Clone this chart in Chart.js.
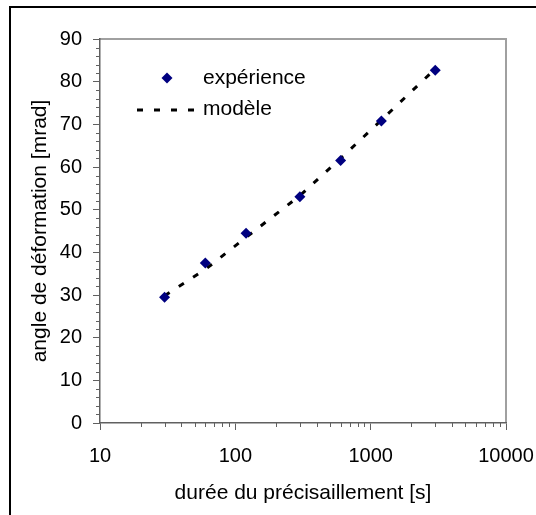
<!DOCTYPE html>
<html>
<head>
<meta charset="utf-8">
<script src="https://cdn.jsdelivr.net/npm/chart.js@4.4.1/dist/chart.umd.min.js"></script>
<style>
  html, body { margin: 0; padding: 0; background: #fff; }
  #wrap { position: relative; width: 536px; height: 515px; }
</style>
</head>
<body>
<div id="wrap"><canvas id="chart" width="536" height="515"></canvas></div>
<script>
// durations of pre-shear [s] and deformation angle [mrad]
const durations = [30, 60, 120, 300, 600, 1200, 3000];
const measured = [29.5, 37.5, 44.5, 53.0, 61.5, 70.8, 82.7];
const modelled = [29.8, 36.0, 43.5, 53.3, 62.0, 71.0, 83.0];

const seriesLabels = ["expérience", "modèle"];
const xTitle = "durée du précisaillement [s]";
const yTitle = "angle de déformation [mrad]";

const xMajorTicks = [10, 100, 1000, 10000];
const xMinorTicks = [20, 30, 40, 50, 60, 70, 80, 90,
  200, 300, 400, 500, 600, 700, 800, 900,
  2000, 3000, 4000, 5000, 6000, 7000, 8000, 9000];
const yMinorTicks = [2, 4, 6, 8, 12, 14, 16, 18, 22, 24, 26, 28, 32, 34, 36, 38,
  42, 44, 46, 48, 52, 54, 56, 58, 62, 64, 66, 68, 72, 74, 76, 78, 82, 84, 86, 88];

const FONT = "'Liberation Sans', Arial, sans-serif";
const NAVY = "#000080";
const AXIS = "#606060";

// frame, plot border, minor ticks and the legend inside the plot
const decorations = {
  id: "decorations",
  beforeDraw(chart) {
    const { ctx, chartArea: a } = chart;
    ctx.save();
    ctx.strokeStyle = "#000";
    ctx.lineWidth = 2;
    ctx.beginPath();
    ctx.moveTo(10, chart.height);
    ctx.lineTo(10, 7);
    ctx.lineTo(chart.width, 7);
    ctx.stroke();

    ctx.strokeStyle = "#a0a0a0";
    ctx.lineWidth = 2;
    ctx.beginPath();
    ctx.moveTo(a.left, a.top);
    ctx.lineTo(a.right, a.top);
    ctx.lineTo(a.right, a.bottom);
    ctx.stroke();
    ctx.restore();
  },
  afterDraw(chart) {
    const { ctx, chartArea: a } = chart;
    const xs = chart.scales.x;
    const ys = chart.scales.y;
    ctx.save();
    ctx.strokeStyle = AXIS;
    ctx.lineWidth = 1;
    ctx.beginPath();
    xMinorTicks.forEach((v) => {
      const px = Math.round(xs.getPixelForValue(v)) + 0.5;
      ctx.moveTo(px, a.bottom);
      ctx.lineTo(px, a.bottom + 4);
    });
    yMinorTicks.forEach((v) => {
      const py = Math.round(ys.getPixelForValue(v)) + 0.5;
      ctx.moveTo(a.left - 4, py);
      ctx.lineTo(a.left, py);
    });
    ctx.stroke();

    // legend
    const ds = chart.data.datasets;
    ctx.fillStyle = NAVY;
    ctx.beginPath();
    const cx = 167, cy = 78, r = 5.5;
    ctx.moveTo(cx, cy - r);
    ctx.lineTo(cx + r, cy);
    ctx.lineTo(cx, cy + r);
    ctx.lineTo(cx - r, cy);
    ctx.closePath();
    ctx.fill();

    ctx.strokeStyle = "#000";
    ctx.lineWidth = 3;
    ctx.setLineDash([6, 11]);
    ctx.beginPath();
    ctx.moveTo(137, 110);
    ctx.lineTo(196, 110);
    ctx.stroke();
    ctx.setLineDash([]);

    ctx.fillStyle = "#000";
    ctx.font = "21px " + FONT;
    ctx.textBaseline = "middle";
    ctx.textAlign = "left";
    ctx.fillText(ds[0].label, 203, 78);
    ctx.fillText(ds[1].label, 203, 109);
    ctx.restore();
  },
};

const ctx = document.getElementById("chart");
const chart = new Chart(ctx, {
  type: "scatter",
  data: {
    datasets: [
      {
        label: seriesLabels[0],
        data: durations.map((x, i) => ({ x: x, y: measured[i] })),
        pointStyle: "rectRot",
        pointRadius: 5.5,
        pointBorderWidth: 0,
        backgroundColor: NAVY,
        borderColor: NAVY,
        showLine: false,
        order: 0,
      },
      {
        label: seriesLabels[1],
        data: durations.map((x, i) => ({ x: x, y: modelled[i] })),
        showLine: true,
        pointRadius: 0,
        borderColor: "#000",
        borderWidth: 3,
        borderDash: [6, 11],
        order: 1,
      },
    ],
  },
  options: {
    responsive: false,
    animation: false,
    layout: {
      padding: { left: 0, top: 39, right: 30, bottom: 0 },
    },
    scales: {
      x: {
        type: "logarithmic",
        min: 10,
        max: 10000,
        afterBuildTicks: (scale) => {
          scale.ticks = xMajorTicks.map((v) => ({ value: v }));
        },
        afterFit: (scale) => {
          scale.height = 92;
          scale.paddingLeft = 0;
          scale.paddingRight = 0;
        },
        grid: {
          drawOnChartArea: false,
          tickLength: 7,
          tickColor: AXIS,
          tickWidth: 1,
        },
        border: { color: AXIS, width: 1.5 },
        ticks: {
          autoSkip: false,
          maxRotation: 0,
          padding: 14,
          color: "#000",
          font: { family: FONT, size: 20 },
          callback: (v) => String(v),
        },
        title: {
          display: true,
          text: xTitle,
          color: "#000",
          font: { family: FONT, size: 21 },
          padding: { top: 0, bottom: 9.4 },
        },
      },
      y: {
        min: 0,
        max: 90,
        afterFit: (scale) => {
          scale.width = 100;
          scale.paddingTop = 0;
          scale.paddingBottom = 0;
        },
        grid: {
          drawOnChartArea: false,
          tickLength: 7,
          tickColor: AXIS,
          tickWidth: 1,
        },
        border: { color: AXIS, width: 1.5 },
        ticks: {
          stepSize: 10,
          padding: 11,
          color: "#000",
          font: { family: FONT, size: 20 },
        },
        title: {
          display: true,
          text: yTitle,
          color: "#000",
          font: { family: FONT, size: 21 },
          padding: { top: 27.4, bottom: 0 },
        },
      },
    },
    plugins: {
      legend: { display: false },
      tooltip: { enabled: false },
    },
  },
  plugins: [decorations],
});
</script>
</body>
</html>
